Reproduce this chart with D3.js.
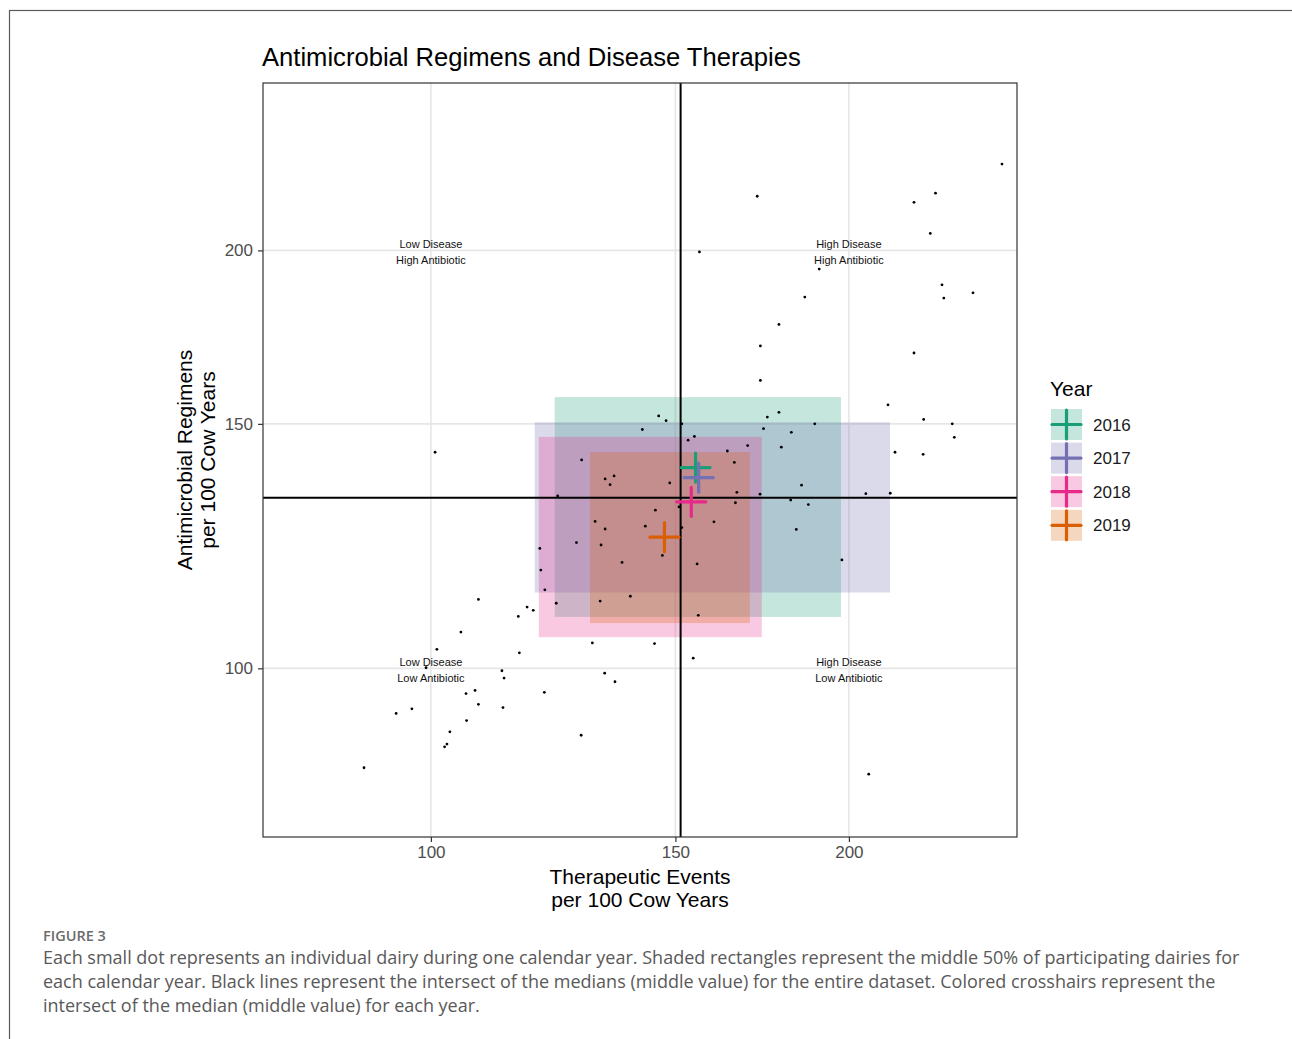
<!DOCTYPE html>
<html>
<head>
<meta charset="utf-8">
<script src="https://cdn.jsdelivr.net/npm/d3@7"></script>
<style>
  html, body { margin: 0; padding: 0; background: #fff; }
  svg { display: block; }
</style>
</head>
<body>
<div id="chart"></div>
<script>
///////////////////////////////////////////
// Data

// Therapeutic events / antimicrobial regimens per 100 cow years, one dairy-year each
const dairyTE = [
  100.7, 128.4, 142.0, 171.8, 257.8, 230.9, 222.8, 228.9, 156.1, 190.4,
  185.9, 233.4, 234.1, 245.7, 178.1, 172.7, 222.8, 172.7, 213.4, 145.9,
  147.7, 151.6, 174.7, 178.1, 173.6, 181.8, 189.0, 226.4, 237.4, 238.2,
  153.2, 154.8, 169.1, 178.8, 215.9, 226.2, 163.5, 165.4, 148.6, 184.9,
  166.1, 172.6, 205.7, 214.2, 181.6, 187.0, 165.7, 150.9, 145.1, 142.7,
  151.6, 159.9, 183.3, 146.8, 155.5, 197.7, 155.8, 144.9, 154.5, 206.7,
  133.5, 135.5, 134.6, 123.4, 131.3, 133.5, 127.3, 132.6, 119.8, 137.3,
  120.0, 120.8, 139.2, 123.1, 132.4, 108.2, 117.3, 118.5, 115.6, 105.1,
  130.7, 101.0, 115.8, 99.2, 112.5, 112.9, 133.4, 135.7, 106.0, 107.6,
  120.7, 108.2, 112.7, 94.4, 96.9, 106.1, 103.2, 102.7, 102.3, 128.3,
  89.5
];
const dairyAR = [
  143.1, 141.3, 148.6, 218.8, 230.8, 219.9, 216.6, 205.7, 199.5, 193.9,
  185.1, 188.9, 184.8, 186.4, 176.9, 170.7, 168.7, 161.2, 154.8, 152.0,
  150.8, 150.0, 151.7, 152.9, 148.8, 147.9, 150.0, 151.1, 150.0, 146.7,
  146.0, 146.9, 144.7, 144.3, 143.1, 142.6, 143.4, 140.7, 136.0, 135.5,
  133.9, 133.5, 133.6, 133.7, 132.2, 131.2, 131.6, 130.7, 130.0, 126.6,
  126.3, 127.5, 125.9, 120.6, 118.9, 119.7, 109.2, 104.2, 101.7, 83.9,
  136.9, 137.6, 135.6, 133.1, 127.6, 126.0, 123.2, 122.7, 122.0, 119.2,
  117.7, 113.9, 112.7, 111.4, 111.8, 112.1, 110.7, 110.1, 109.0, 106.2,
  104.3, 103.2, 102.6, 100.1, 99.6, 98.4, 99.2, 97.8, 95.9, 96.4,
  96.1, 94.2, 93.7, 92.8, 93.5, 91.7, 90.0, 88.2, 87.8, 89.5,
  84.8
];

// Per-year medians and interquartile ranges
const years = ["2016", "2017", "2018", "2019"];
const yearColors = ["#1B9E77", "#7570B3", "#E7298A", "#D95F02"];
const medTE = [155.1, 155.9, 154.0, 147.3];
const medAR = [139.5, 137.2, 131.8, 124.3];
const q1TE = [122.8, 118.8, 119.6, 130.2];
const q3TE = [197.4, 214.1, 173.1, 169.7];
const q1AR = [108.9, 113.4, 105.3, 107.8];
const q3AR = [156.8, 150.4, 146.8, 143.1];

// Whole-dataset medians
const overallMedTE = 151.3;
const overallMedAR = 132.7;

// Axis ticks and quadrant labels
const tickValues = [100, 150, 200];
const quadTE = [100, 200, 100, 200];
const quadAR = [200, 200, 100, 100];
const quadLine1 = ["Low Disease", "High Disease", "Low Disease", "High Disease"];
const quadLine2 = ["High Antibiotic", "High Antibiotic", "Low Antibiotic", "Low Antibiotic"];

const captionLines = [
  "Each small dot represents an individual dairy during one calendar year. Shaded rectangles represent the middle 50% of participating dairies for",
  "each calendar year. Black lines represent the intersect of the medians (middle value) for the entire dataset. Colored crosshairs represent the",
  "intersect of the median (middle value) for each year."
];

///////////////////////////////////////////
// Layout
const W = 1292, H = 1039;
var panel = { left: 263, right: 1017, top: 83, bottom: 837 };
const plotFont = "'Liberation Sans', Arial, sans-serif";
const captionFont = "'Open Sans', 'Noto Sans', sans-serif";
const crossHalf = 14.5;

var svg = d3
  .select("#chart")
  .append("svg")
  .attr("width", W)
  .attr("height", H)
  .style("font-family", plotFont);

// page frame
svg
  .append("rect")
  .attr("x", 9.5)
  .attr("y", 10.5)
  .attr("width", W)
  .attr("height", H)
  .attr("fill", "none")
  .attr("stroke", "#5a5a5a")
  .attr("stroke-width", 1.2);

var x = d3.scaleLog().domain([75.7, 264.3]).range([panel.left, panel.right]);
var y = d3.scaleLog().domain([75.6, 264.0]).range([panel.bottom, panel.top]);

var pw = panel.right - panel.left;
var ph = panel.bottom - panel.top;

////////////////////////////////
// Grid
var grid = svg.append("g").attr("stroke", "#e6e6e6").attr("stroke-width", 1.6);
grid
  .selectAll("line.gx")
  .data(tickValues)
  .enter()
  .append("line")
  .attr("x1", function (d) { return x(d); })
  .attr("x2", function (d) { return x(d); })
  .attr("y1", panel.top)
  .attr("y2", panel.bottom);
grid
  .selectAll("line.gy")
  .data(tickValues)
  .enter()
  .append("line")
  .attr("y1", function (d) { return y(d); })
  .attr("y2", function (d) { return y(d); })
  .attr("x1", panel.left)
  .attr("x2", panel.right);

////////////////////////////////
// Interquartile rectangles, one per year
svg
  .append("g")
  .selectAll("rect")
  .data(years)
  .enter()
  .append("rect")
  .attr("x", function (d, i) { return x(q1TE[i]); })
  .attr("y", function (d, i) { return y(q3AR[i]); })
  .attr("width", function (d, i) { return x(q3TE[i]) - x(q1TE[i]); })
  .attr("height", function (d, i) { return y(q1AR[i]) - y(q3AR[i]); })
  .attr("fill", function (d, i) { return yearColors[i]; })
  .attr("fill-opacity", 0.26);

////////////////////////////////
// Dairy points
svg
  .append("g")
  .selectAll("circle")
  .data(dairyTE)
  .enter()
  .append("circle")
  .attr("cx", function (d) { return x(d); })
  .attr("cy", function (d, i) { return y(dairyAR[i]); })
  .attr("r", 1.4)
  .attr("fill", "#000");

////////////////////////////////
// Overall median lines
svg
  .append("line")
  .attr("x1", x(overallMedTE))
  .attr("x2", x(overallMedTE))
  .attr("y1", panel.top)
  .attr("y2", panel.bottom)
  .attr("stroke", "#000")
  .attr("stroke-width", 2);
svg
  .append("line")
  .attr("y1", y(overallMedAR))
  .attr("y2", y(overallMedAR))
  .attr("x1", panel.left)
  .attr("x2", panel.right)
  .attr("stroke", "#000")
  .attr("stroke-width", 2);

////////////////////////////////
// Yearly median crosshairs
function drawCross(g, cx, cy, color) {
  g.append("line")
    .attr("x1", cx - crossHalf)
    .attr("x2", cx + crossHalf)
    .attr("y1", cy)
    .attr("y2", cy)
    .attr("stroke", color)
    .attr("stroke-width", 3.2)
    .attr("stroke-linecap", "round");
  g.append("line")
    .attr("x1", cx)
    .attr("x2", cx)
    .attr("y1", cy - crossHalf)
    .attr("y2", cy + crossHalf)
    .attr("stroke", color)
    .attr("stroke-width", 3.2)
    .attr("stroke-linecap", "round");
}
var crosses = svg.append("g");
years.forEach(function (yr, i) {
  drawCross(crosses, x(medTE[i]), y(medAR[i]), yearColors[i]);
});

////////////////////////////////
// Quadrant labels
var quad = svg
  .append("g")
  .selectAll("text")
  .data(quadLine1)
  .enter()
  .append("text")
  .attr("x", function (d, i) { return x(quadTE[i]); })
  .attr("y", function (d, i) { return y(quadAR[i]); })
  .attr("text-anchor", "middle")
  .attr("font-size", 11)
  .attr("fill", "#111");
quad
  .append("tspan")
  .attr("x", function (d, i) { return x(quadTE[i]); })
  .attr("dy", "-0.25em")
  .text(function (d) { return d; });
quad
  .append("tspan")
  .attr("x", function (d, i) { return x(quadTE[i]); })
  .attr("dy", "1.45em")
  .text(function (d, i) { return quadLine2[i]; });

////////////////////////////////
// Panel border and axes
svg
  .append("rect")
  .attr("x", panel.left)
  .attr("y", panel.top)
  .attr("width", pw)
  .attr("height", ph)
  .attr("fill", "none")
  .attr("stroke", "#333")
  .attr("stroke-width", 1.2);

var xAxis = svg
  .append("g")
  .attr("transform", "translate(0," + panel.bottom + ")")
  .call(d3.axisBottom(x).tickValues(tickValues).tickFormat(d3.format("d")).tickSize(5).tickPadding(4));
var yAxis = svg
  .append("g")
  .attr("transform", "translate(" + panel.left + ",0)")
  .call(d3.axisLeft(y).tickValues(tickValues).tickFormat(d3.format("d")).tickSize(5).tickPadding(5));

[xAxis, yAxis].forEach(function (ax) {
  ax.select(".domain").remove();
  ax.selectAll(".tick line").attr("stroke", "#333").attr("stroke-width", 1.2);
  ax.selectAll(".tick text")
    .attr("fill", "#4d4d4d")
    .style("font-family", plotFont)
    .style("font-size", "17px");
});

// Title
svg
  .append("text")
  .attr("x", 262)
  .attr("y", 66)
  .attr("font-size", 25.6)
  .attr("fill", "#000")
  .text("Antimicrobial Regimens and Disease Therapies");

// X axis title
var xt = svg
  .append("text")
  .attr("text-anchor", "middle")
  .attr("font-size", 21)
  .attr("fill", "#000");
xt.append("tspan").attr("x", 640).attr("y", 884).text("Therapeutic Events");
xt.append("tspan").attr("x", 640).attr("y", 907).text("per 100 Cow Years");

// Y axis title
var yt = svg
  .append("text")
  .attr("transform", "translate(0,460) rotate(-90)")
  .attr("text-anchor", "middle")
  .attr("font-size", 21)
  .attr("fill", "#000");
yt.append("tspan").attr("x", 0).attr("y", 192).text("Antimicrobial Regimens");
yt.append("tspan").attr("x", 0).attr("y", 215).text("per 100 Cow Years");

////////////////////////////////
// Legend
var legend = svg.append("g").attr("transform", "translate(1051,0)");
legend
  .append("text")
  .attr("x", -1)
  .attr("y", 396)
  .attr("font-size", 21)
  .attr("fill", "#000")
  .text("Year");

years.forEach(function (yr, i) {
  var top = 409 + i * 33.6;
  legend
    .append("rect")
    .attr("x", 0)
    .attr("y", top)
    .attr("width", 31)
    .attr("height", 31)
    .attr("fill", yearColors[i])
    .attr("fill-opacity", 0.26);
  drawCross(legend, 15.5, top + 15.5, yearColors[i]);
  legend
    .append("text")
    .attr("x", 42)
    .attr("y", top + 15.5)
    .attr("dy", "0.36em")
    .attr("font-size", 17)
    .attr("fill", "#1a1a1a")
    .text(yr);
});

////////////////////////////////
// Figure caption
svg
  .append("text")
  .attr("x", 43)
  .attr("y", 941)
  .style("font-family", captionFont)
  .attr("font-size", 14.5)
  .attr("font-weight", 600)
  .attr("fill", "#6b6b6b")
  .text("FIGURE 3");

svg
  .append("g")
  .selectAll("text")
  .data(captionLines)
  .enter()
  .append("text")
  .attr("x", 43)
  .attr("y", function (d, i) { return 964 + i * 24; })
  .style("font-family", captionFont)
  .attr("font-size", 18)
  .attr("fill", "#595959")
  .text(function (d) { return d; });
</script>
</body>
</html>
